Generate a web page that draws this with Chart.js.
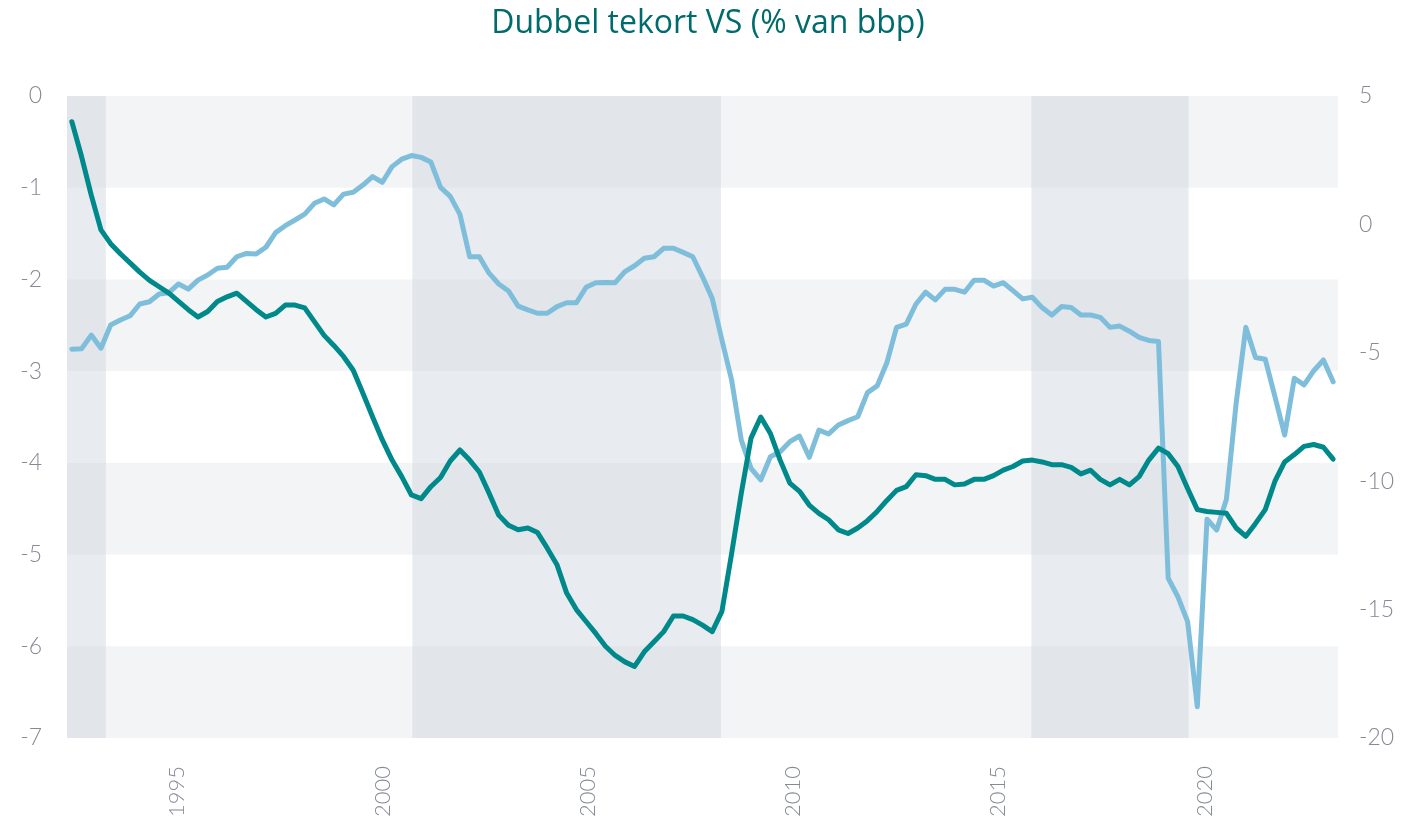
<!DOCTYPE html>
<html lang="nl">
<head>
<meta charset="utf-8">
<title>Dubbel tekort VS</title>
<script src="https://cdn.jsdelivr.net/npm/chart.js@4.4.1/dist/chart.umd.min.js"></script>
<style>
  html, body { margin: 0; padding: 0; background: #fff; }
  #wrap { width: 1416px; height: 819px; position: relative; }
</style>
</head>
<body>
<div id="wrap"><canvas id="chart"></canvas></div>
<script>
// Quarterly series, first quarter = 1992 Q1
const firstYear = 1992;

// Current account balance, % of GDP (left axis)
const currentAccount = [
  -0.28, -0.66, -1.08, -1.46, -1.61, -1.72, -1.82, -1.92, -2.01, -2.08,
  -2.15, -2.24, -2.33, -2.41, -2.35, -2.24, -2.19, -2.15, -2.24, -2.33,
  -2.41, -2.37, -2.28, -2.28, -2.31, -2.46, -2.61, -2.72, -2.84, -2.99,
  -3.24, -3.50, -3.75, -3.97, -4.15, -4.35, -4.39, -4.26, -4.16, -3.98,
  -3.86, -3.97, -4.10, -4.33, -4.57, -4.68, -4.73, -4.71, -4.76, -4.93,
  -5.11, -5.42, -5.60, -5.73, -5.86, -6.00, -6.10, -6.17, -6.22, -6.06,
  -5.95, -5.84, -5.67, -5.67, -5.71, -5.77, -5.84, -5.62, -4.99, -4.33,
  -3.73, -3.50, -3.68, -3.97, -4.22, -4.31, -4.46, -4.55, -4.62, -4.73,
  -4.77, -4.71, -4.63, -4.53, -4.41, -4.30, -4.26, -4.13, -4.14, -4.18,
  -4.18, -4.24, -4.23, -4.18, -4.18, -4.14, -4.08, -4.04, -3.98, -3.97,
  -3.99, -4.02, -4.02, -4.05, -4.12, -4.08, -4.18, -4.24, -4.18, -4.24,
  -4.15, -3.97, -3.84, -3.90, -4.04, -4.28, -4.51, -4.53, -4.54, -4.55,
  -4.71, -4.80, -4.66, -4.51, -4.20, -3.99, -3.91, -3.82, -3.80, -3.83,
  -3.96,
];

// Federal budget balance, % of GDP (right axis)
const budgetBalance = [
  -4.86, -4.84, -4.31, -4.82, -3.92, -3.72, -3.56, -3.10, -3.01, -2.71,
  -2.66, -2.32, -2.52, -2.17, -1.97, -1.71, -1.67, -1.26, -1.13, -1.15,
  -0.89, -0.32, -0.05, 0.17, 0.40, 0.82, 0.99, 0.76, 1.18, 1.25,
  1.53, 1.86, 1.64, 2.25, 2.54, 2.68, 2.61, 2.43, 1.44, 1.09,
  0.39, -1.26, -1.26, -1.90, -2.32, -2.59, -3.18, -3.33, -3.46, -3.46,
  -3.20, -3.05, -3.05, -2.45, -2.27, -2.26, -2.27, -1.84, -1.61, -1.32,
  -1.26, -0.93, -0.93, -1.09, -1.26, -2.04, -2.88, -4.50, -6.06, -8.40,
  -9.50, -9.95, -9.05, -8.85, -8.46, -8.24, -9.07, -8.01, -8.16, -7.81,
  -7.64, -7.49, -6.55, -6.29, -5.39, -4.01, -3.88, -3.10, -2.64, -2.94,
  -2.53, -2.53, -2.64, -2.17, -2.17, -2.40, -2.27, -2.58, -2.90, -2.84,
  -3.24, -3.53, -3.20, -3.24, -3.53, -3.53, -3.62, -4.01, -3.96, -4.16,
  -4.40, -4.52, -4.56, -13.78, -14.50, -15.47, -18.78, -11.48, -11.90, -10.70,
  -6.97, -4.01, -5.18, -5.25, -6.71, -8.20, -5.99, -6.25, -5.70, -5.28,
  -6.13,
];

// Shaded periods (Republican administrations), in years
const shadedPeriods = [
  [1992.0, 1993.0],
  [2000.9, 2008.85],
  [2016.85, 2020.9],
];

const xTickLabels = ['1995', '2000', '2005', '2010', '2015', '2020'];
const xTickValues = [1994.84, 2000.15, 2005.42, 2010.70, 2015.99, 2021.31];

const TEAL = '#00898b';
const LIGHT_BLUE = '#7fbedb';
const LABEL_GREY = '#858a93';
const STRIPE = '#f3f4f6';
const BAND = 'rgba(209, 215, 223, 0.5)';

const toPoints = (values) =>
  values.map((v, i) => ({ x: firstYear + (i + 0.5) / 4, y: v }));

const lastYear = firstYear + currentAccount.length / 4;

// Draws the horizontal stripes and the shaded periods behind the lines
const backdrop = {
  id: 'backdrop',
  beforeDatasetsDraw(chart) {
    const { ctx, chartArea: area, scales } = chart;
    const x = scales.x;
    const y = scales.y;
    ctx.save();
    ctx.fillStyle = STRIPE;
    for (let v = y.max; v > y.min; v -= 2) {
      const top = y.getPixelForValue(v);
      const bottom = y.getPixelForValue(v - 1);
      ctx.fillRect(area.left, top, area.right - area.left, bottom - top);
    }
    ctx.fillStyle = BAND;
    shadedPeriods.forEach(([start, end]) => {
      const left = Math.max(x.getPixelForValue(start), area.left);
      const right = Math.min(x.getPixelForValue(end), area.right);
      ctx.fillRect(left, area.top, right - left, area.bottom - area.top);
    });
    ctx.restore();
  },
};

const tickFont = { family: 'Lato', size: 23, weight: 300 };

new Chart(document.getElementById('chart'), {
  type: 'line',
  data: {
    datasets: [
      {
        label: 'Lopende rekening',
        data: toPoints(currentAccount),
        yAxisID: 'y',
        borderColor: TEAL,
        borderWidth: 5,
        pointRadius: 0,
        tension: 0,
        borderJoinStyle: 'round',
        borderCapStyle: 'round',
      },
      {
        label: 'Begrotingssaldo',
        data: toPoints(budgetBalance),
        yAxisID: 'y1',
        borderColor: LIGHT_BLUE,
        borderWidth: 5,
        pointRadius: 0,
        tension: 0,
        borderJoinStyle: 'round',
        borderCapStyle: 'round',
      },
    ],
  },
  options: {
    responsive: true,
    maintainAspectRatio: false,
    animation: false,
    layout: { padding: 0 },
    plugins: {
      legend: { display: false },
      tooltip: { enabled: false },
      title: {
        display: true,
        text: 'Dubbel tekort VS (% van bbp)',
        color: '#006b6c',
        font: { family: 'Open Sans', size: 32, weight: 'normal' },
        padding: { top: 5, bottom: 52.6 },
      },
    },
    scales: {
      x: {
        type: 'linear',
        min: firstYear,
        max: lastYear,
        grid: { display: false, drawTicks: false },
        border: { display: false },
        afterBuildTicks(scale) {
          scale.ticks = xTickValues.map((value) => ({ value }));
        },
        afterFit(scale) {
          scale.height = 81;
        },
        ticks: {
          autoSkip: false,
          minRotation: 90,
          maxRotation: 90,
          padding: 28,
          color: LABEL_GREY,
          font: { family: 'Lato', size: 22, weight: 300 },
          callback(value, index) {
            return xTickLabels[index];
          },
        },
      },
      y: {
        position: 'left',
        min: -7,
        max: 0,
        grid: { display: false, drawTicks: false },
        border: { display: false },
        afterFit(scale) {
          scale.width = 67;
        },
        ticks: {
          stepSize: 1,
          padding: 25,
          color: LABEL_GREY,
          font: tickFont,
        },
      },
      y1: {
        position: 'right',
        min: -20,
        max: 5,
        grid: { display: false, drawTicks: false },
        border: { display: false },
        afterFit(scale) {
          scale.width = 78;
        },
        ticks: {
          stepSize: 5,
          padding: 21,
          color: LABEL_GREY,
          font: tickFont,
        },
      },
    },
  },
  plugins: [backdrop],
});
</script>
</body>
</html>
